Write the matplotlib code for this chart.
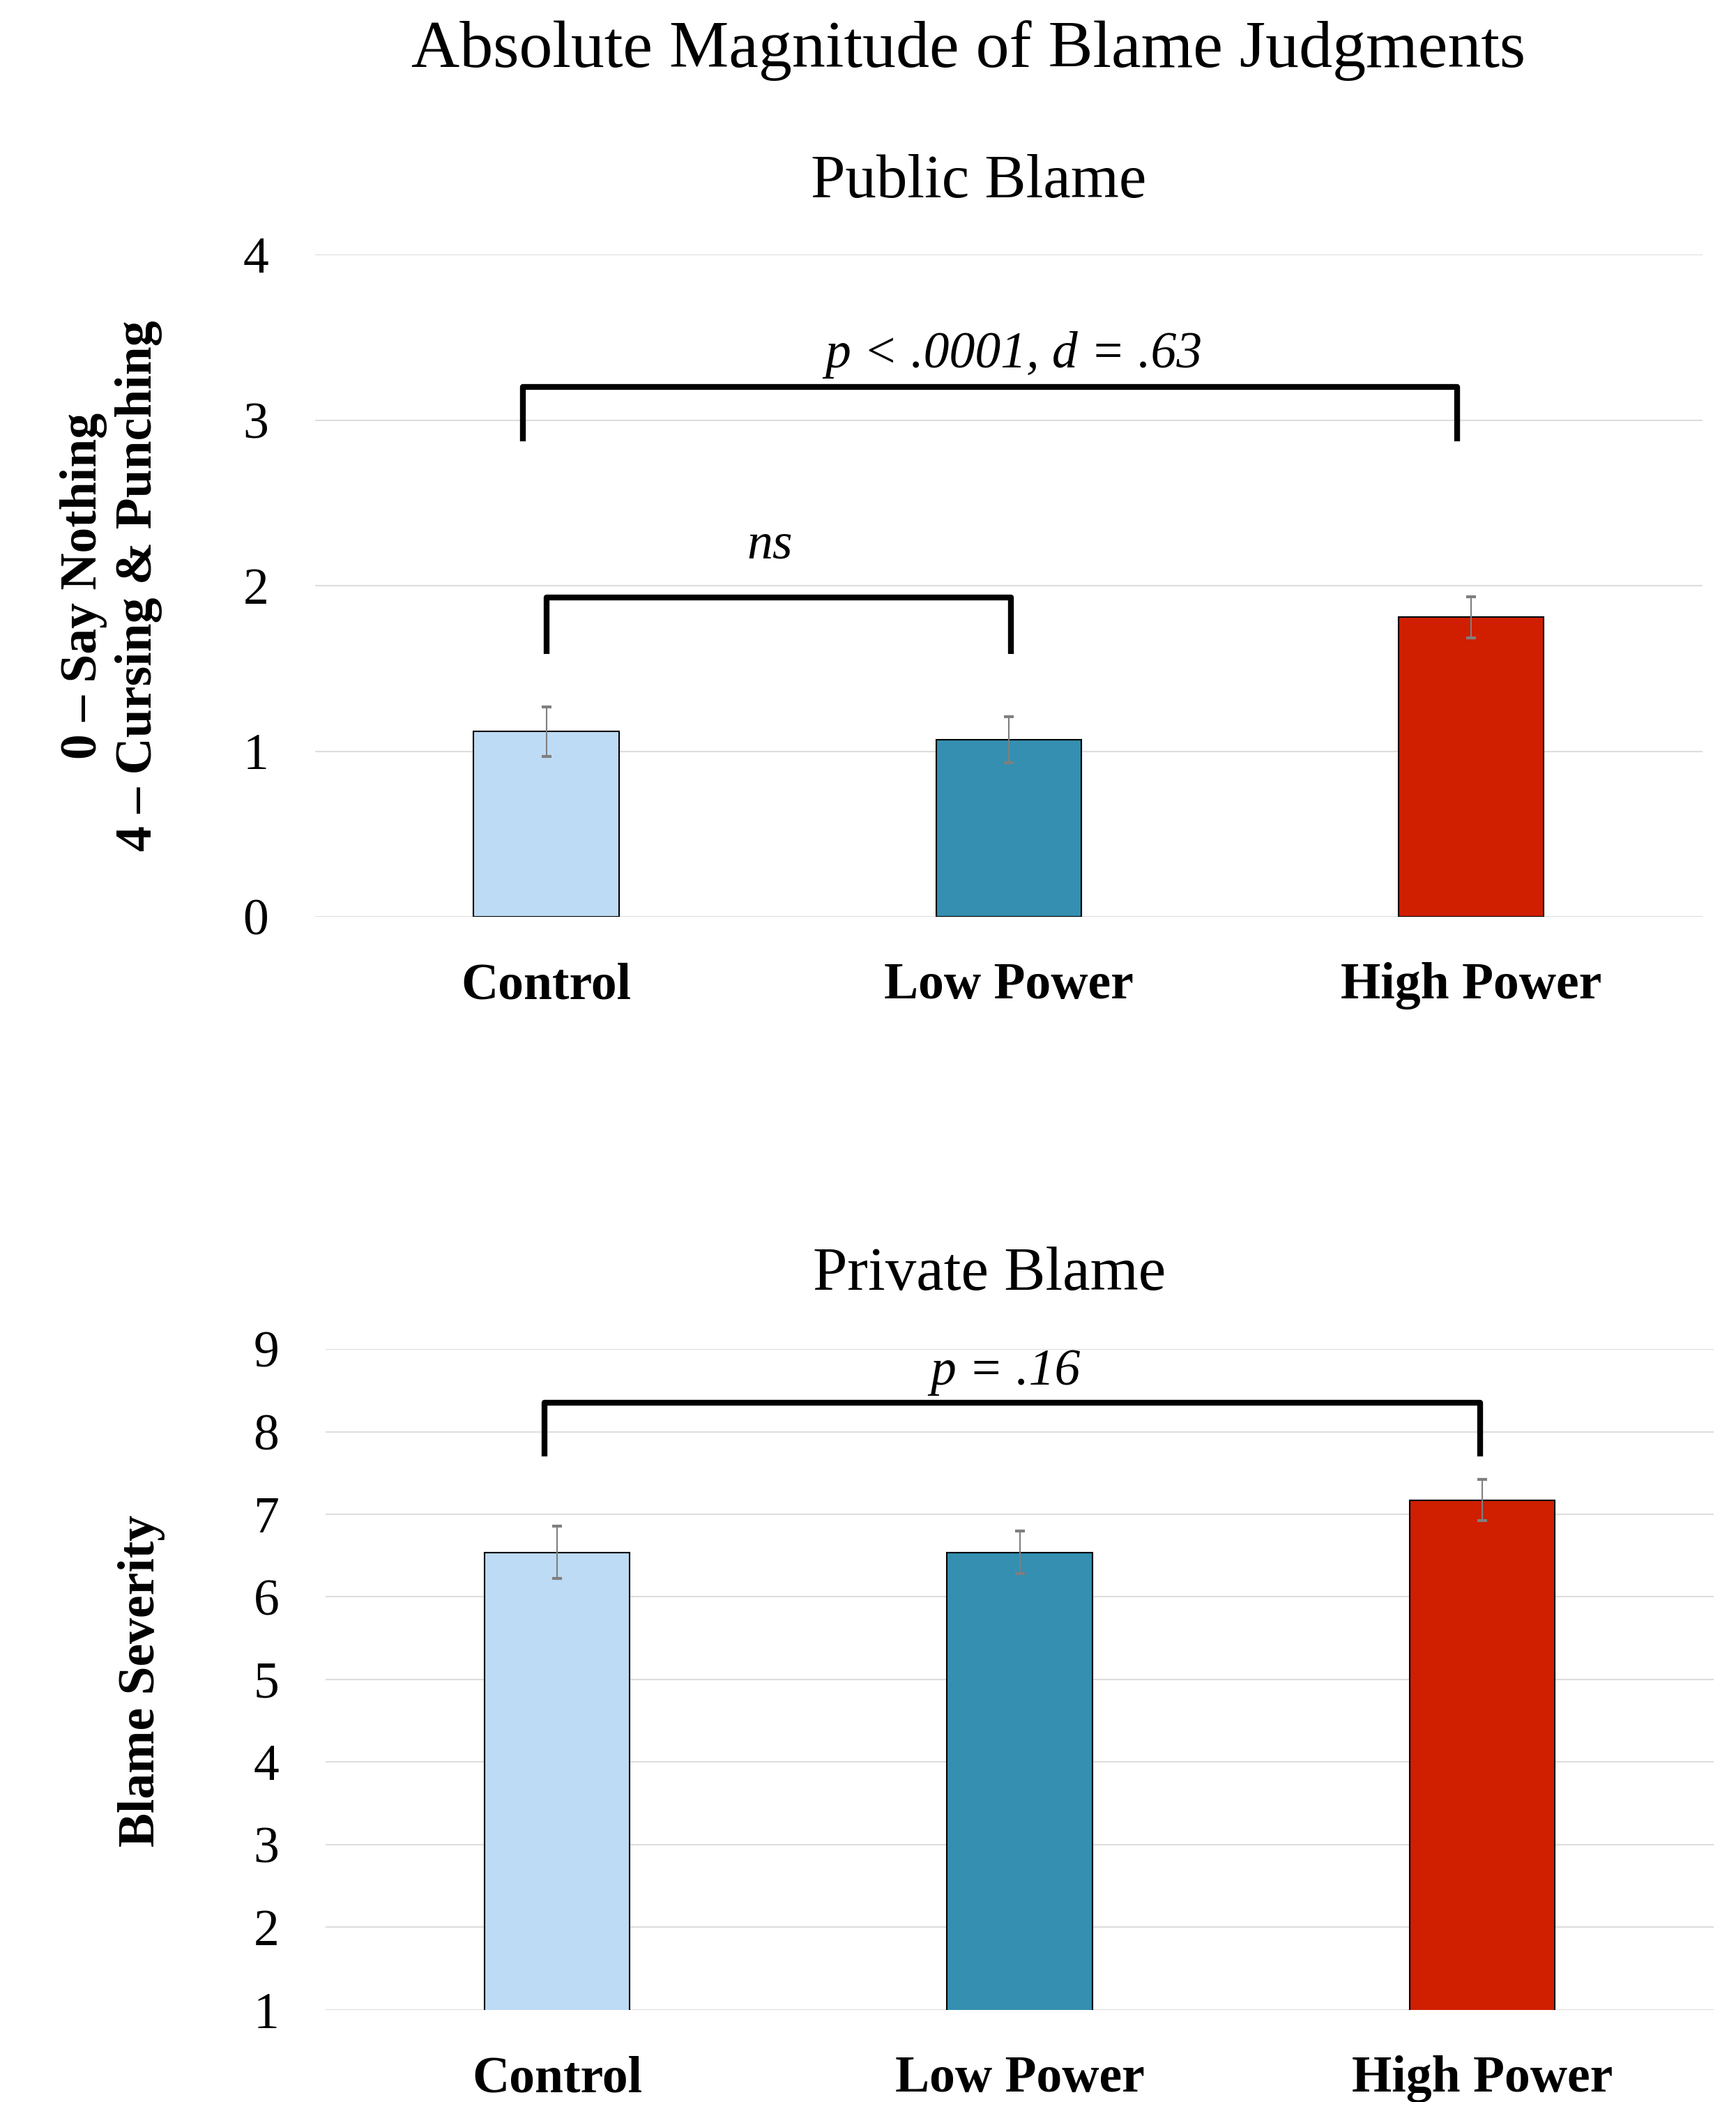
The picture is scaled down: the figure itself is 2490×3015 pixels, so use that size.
import matplotlib
matplotlib.use("Agg")
import matplotlib.pyplot as plt
import numpy as np

plt.rcParams['font.family'] = ['Liberation Serif', 'DejaVu Serif']

categories = ["Control", "Low Power", "High Power"]
colors = ["#BDDBF4", "#348FB1", "#CF1E00"]

public_means = [1.12, 1.07, 1.81]
public_err = [0.15, 0.14, 0.125]

private_means = [6.54, 6.54, 7.17]
private_err = [0.32, 0.26, 0.25]

public_ticks = [0, 1, 2, 3, 4]
private_ticks = [1, 2, 3, 4, 5, 6, 7, 8, 9]

fig = plt.figure(figsize=(24.9, 30.15), dpi=100)

ax1 = fig.add_axes([0.1815, 0.5638, 0.7992, 0.3151])
ax2 = fig.add_axes([0.1876, 0.0438, 0.7996, 0.3144])

FS = 53
x = np.arange(len(categories))


def style(ax, ticks):
    for s in ax.spines.values():
        s.set_visible(False)
    ax.set_yticks(ticks)
    ax.set_ylim(ticks[0], ticks[-1])
    ax.set_xlim(-0.5, 2.5)
    ax.grid(axis='y', color='#DDDDDD', linewidth=1.5, zorder=0)
    ax.set_axisbelow(True)
    ax.tick_params(axis='y', length=0, pad=48, labelsize=FS)
    ax.tick_params(axis='x', length=0, pad=47, labelsize=FS)
    ax.set_xticks(x)
    ax.set_xticklabels(categories, fontweight='bold')


def bracket(ax, x0, x1, ybot, ytop, label, xtext, ytext):
    ax.plot([x0, x0, x1, x1], [ybot, ytop, ytop, ybot], color='black',
            lw=6, solid_joinstyle='round', solid_capstyle='butt', zorder=5)
    ax.text(xtext, ytext, label, ha='center', va='center',
            fontsize=FS, style='italic')


style(ax1, public_ticks)
ax1.bar(x, public_means, width=0.314, color=colors, edgecolor='black',
        linewidth=1.5, zorder=3)
ax1.errorbar(x, public_means, yerr=public_err, fmt='none', ecolor='#7F7F7F',
             elinewidth=1.5, capsize=5, capthick=3, zorder=4)
bracket(ax1, -0.05, 1.97, 2.87, 3.2, "p < .0001, d = .63", 1.01, 3.395)
bracket(ax1, 0.0, 1.005, 1.59, 1.93, "ns", 0.483, 2.24)

style(ax2, private_ticks)
ax2.bar(x, private_means, width=0.314, color=colors, edgecolor='black',
        linewidth=1.5, zorder=3)
ax2.errorbar(x, private_means, yerr=private_err, fmt='none', ecolor='#7F7F7F',
             elinewidth=1.5, capsize=5, capthick=3, zorder=4)
bracket(ax2, -0.027, 1.995, 7.70, 8.35, "p = .16", 0.969, 8.72)

fig.text(0.5578, 1 - 73 / 3015, "Absolute Magnitude of Blame Judgments",
         ha='center', va='center', fontsize=69)
fig.text(0.5638, 1 - 262 / 3015, "Public Blame", ha='center', va='center',
         fontsize=64)
fig.text(0.5699, 1 - 1829 / 3015, "Private Blame", ha='center', va='center',
         fontsize=64)

fig.text(0.0641, 0.7214, "0 – Say Nothing\n4 – Cursing & Punching",
         rotation=90, ha='center', va='center', multialignment='center',
         fontsize=FS, fontweight='bold', linespacing=1.22)
fig.text(0.0815, 0.2003, "Blame Severity", rotation=90, ha='center',
         va='center', fontsize=FS, fontweight='bold')

fig.savefig("out.png", dpi=100)
